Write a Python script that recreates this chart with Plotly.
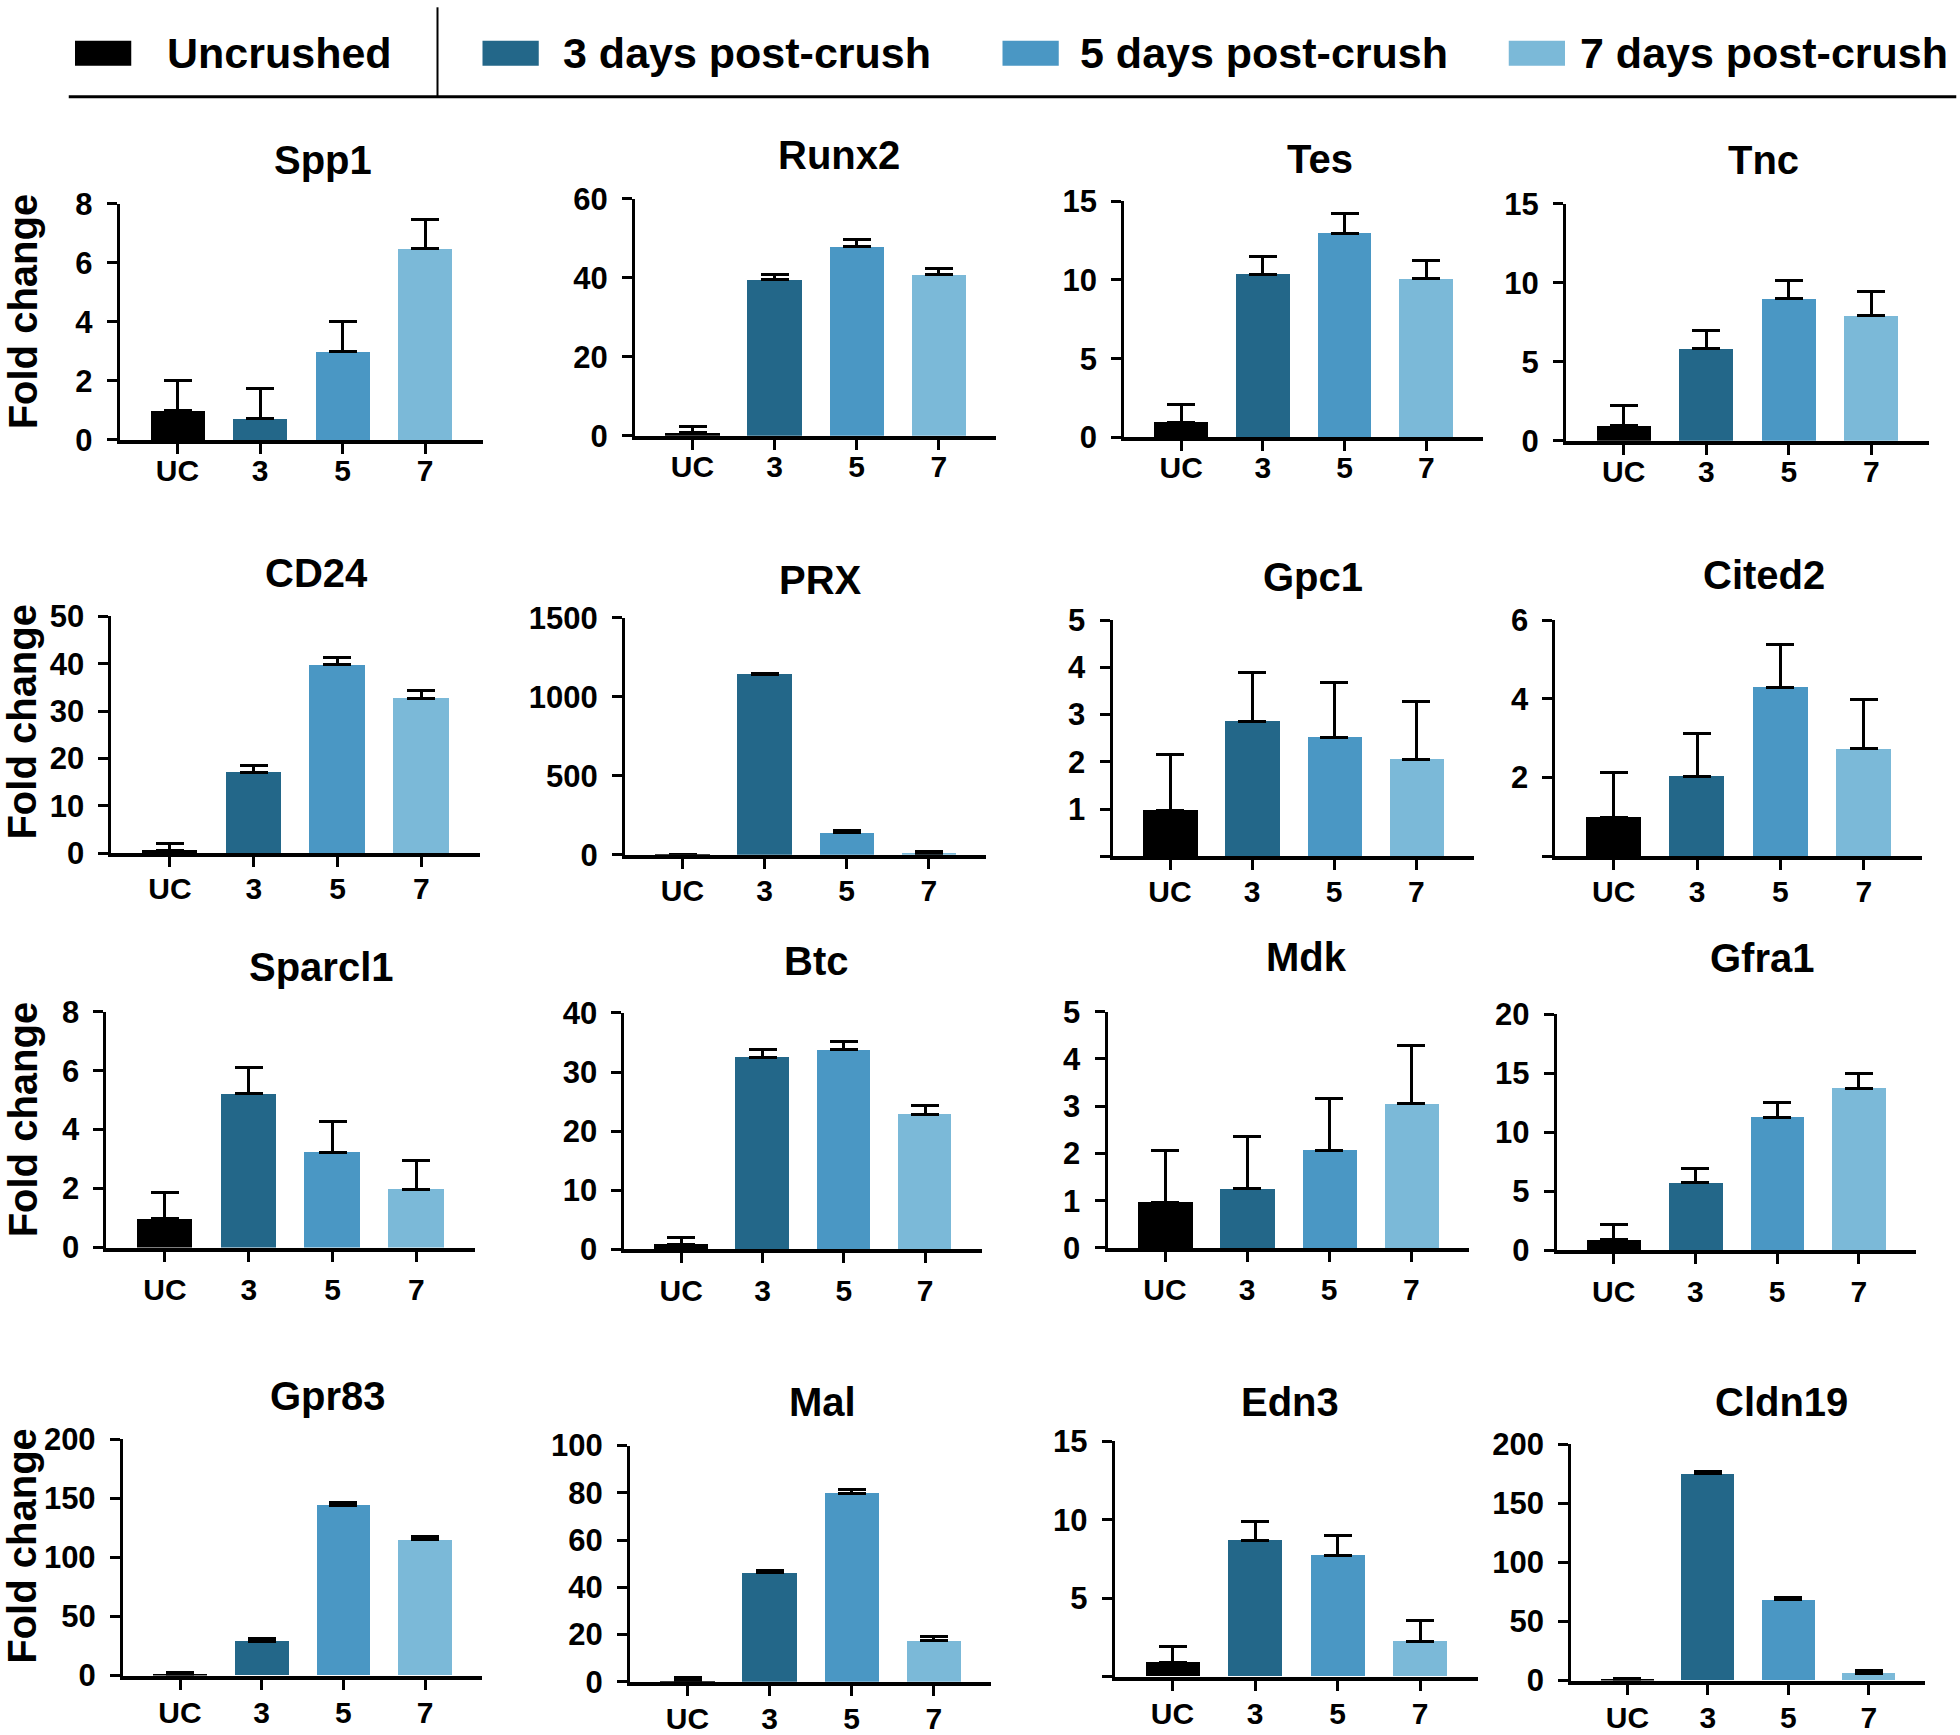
import plotly.graph_objects as go

W, H = 1960, 1735
S = 1.25  # reference display scale -> full

categories = ["UC", "3", "5", "7"]
group_names = ["Uncrushed", "3 days post-crush", "5 days post-crush", "7 days post-crush"]
colors = ["#000000", "#236789", "#4A97C4", "#7BB9D8"]

genes = ["Spp1", "Runx2", "Tes", "Tnc",
         "CD24", "PRX", "Gpc1", "Cited2",
         "Sparcl1", "Btc", "Mdk", "Gfra1",
         "Gpr83", "Mal", "Edn3", "Cldn19"]

spp1 = [0.98, 0.73, 2.98, 6.49]
spp1_err = [1.04, 1.01, 1.04, 0.96]
runx2 = [0.8, 39.5, 47.9, 40.7]
runx2_err = [1.5, 1.4, 1.7, 1.7]
tes = [0.96, 10.34, 12.98, 10.07]
tes_err = [1.14, 1.13, 1.22, 1.15]
tnc = [0.93, 5.85, 9.0, 7.91]
tnc_err = [1.3, 1.13, 1.16, 1.52]
cd24 = [0.7, 17.0, 39.75, 32.65]
cd24_err = [1.4, 1.5, 1.55, 1.65]
prx = [1.0, 1143, 141, 10]
prx_err = [2, 6, 12, 9]
gpc1 = [0.98, 2.86, 2.52, 2.06]
gpc1_err = [1.18, 1.04, 1.16, 1.21]
cited2 = [0.99, 2.04, 4.3, 2.73]
cited2_err = [1.13, 1.08, 1.07, 1.26]
sparcl1 = [0.98, 5.21, 3.24, 1.98]
sparcl1_err = [0.9, 0.89, 1.03, 0.96]
btc = [0.84, 32.47, 33.8, 22.87]
btc_err = [1.13, 1.33, 1.4, 1.43]
mdk = [0.97, 1.25, 2.07, 3.06]
mdk_err = [1.09, 1.11, 1.09, 1.23]
gfra1 = [0.9, 5.73, 11.29, 13.74]
gfra1_err = [1.29, 1.18, 1.21, 1.26]
gpr83 = [1.0, 29.1, 144.3, 114.8]
gpr83_err = [1.5, 2.0, 2.5, 2.8]
mal = [0.7, 46.2, 79.9, 17.6]
mal_err = [1.0, 1.1, 1.6, 1.6]
edn3 = [0.91, 8.66, 7.73, 2.28]
edn3_err = [1.05, 1.25, 1.27, 1.31]
cldn19 = [1.0, 175.0, 68.2, 6.2]
cldn19_err = [0.6, 1.7, 2.5, 2.5]

means = [spp1, runx2, tes, tnc, cd24, prx, gpc1, cited2,
         sparcl1, btc, mdk, gfra1, gpr83, mal, edn3, cldn19]
errs = [spp1_err, runx2_err, tes_err, tnc_err, cd24_err, prx_err, gpc1_err, cited2_err,
        sparcl1_err, btc_err, mdk_err, gfra1_err, gpr83_err, mal_err, edn3_err, cldn19_err]

# y-axis ticks per panel
ytick_vals = [
    [0, 2, 4, 6, 8], [0, 20, 40, 60], [0, 5, 10, 15], [0, 5, 10, 15],
    [0, 10, 20, 30, 40, 50], [0, 500, 1000, 1500], [0, 1, 2, 3, 4, 5], [0, 2, 4, 6],
    [0, 2, 4, 6, 8], [0, 10, 20, 30, 40], [0, 1, 2, 3, 4, 5], [0, 5, 10, 15, 20],
    [0, 50, 100, 150, 200], [0, 20, 40, 60, 80, 100], [0, 5, 10, 15], [0, 50, 100, 150, 200],
]
hide_zero = {"Gpc1", "Cited2", "Edn3"}

# layout geometry (reference display px): UC label x, 7 label x, y of zero, y of top tick
geo = [
    (142, 340, 353, 163), (554, 751, 349.6, 159), (945, 1141, 351, 161), (1299, 1497, 353.6, 163),
    (136, 337, 685.6, 495), (546, 743, 686.7, 496), (936, 1133, 688, 498), (1291, 1491, 688, 498),
    (132, 333, 1002.7, 813), (545, 740, 1004, 814), (932, 1129, 1003, 813), (1291, 1487, 1005, 815),
    (144, 340, 1347, 1157), (550, 747, 1352, 1162), (938, 1136, 1348, 1158.7), (1302, 1495, 1351, 1161),
]
row_label_standoff = [-9, -4, 2, -3]
title_pos = [
    (258, 128), (671, 124), (1056, 127), (1411, 128),
    (253, 460), (656, 466), (1050, 463), (1411, 462),
    (257, 777), (653, 772), (1045, 769), (1410, 770),
    (262, 1122), (658, 1127), (1032, 1127), (1425, 1127),
]


def py(yd):
    """reference display y -> paper y (with vertical calibration)"""
    yd = (yd - 12.8) / 0.976
    return 1 - yd * S / H


def px(xd):
    return xd * S / W


FONT = "Liberation Sans, Arial, Helvetica, sans-serif"
fig = go.Figure()
annotations = []
shapes = []

for i, g in enumerate(genes):
    n = i + 1
    xa = "x" if n == 1 else f"x{n}"
    ya = "y" if n == 1 else f"y{n}"
    cuc, c7, y0, ytop = geo[i]
    s = (c7 - cuc) / 3.0
    fig.add_trace(go.Bar(
        x=[0, 1, 2, 3], y=means[i], width=0.66,
        marker=dict(color=colors, line=dict(width=0)),
        error_y=dict(type="data", symmetric=False, array=errs[i],
                     arrayminus=[0, 0, 0, 0], color="black", thickness=3, width=14),
        xaxis=xa, yaxis=ya, showlegend=False,
    ))
    tv = ytick_vals[i]
    tt = [("" if (v == 0 and g in hide_zero) else str(v)) for v in tv]
    fig.layout[("xaxis" if n == 1 else f"xaxis{n}")] = dict(
        domain=[px(cuc - 0.7 * s), px(c7 + 0.7 * s)], anchor=ya, range=[-0.7, 3.7],
        tickvals=[0, 1, 2, 3], ticktext=categories,
        showline=True, linecolor="black", linewidth=4,
        ticks="outside", ticklen=10, tickwidth=3, tickcolor="black",
        ticklabelstandoff=row_label_standoff[i // 4],
        tickfont=dict(family=FONT, size=30, color="black", weight="bold"),
        showgrid=False, zeroline=False, fixedrange=True,
    )
    fig.layout[("yaxis" if n == 1 else f"yaxis{n}")] = dict(
        domain=[py(y0), py(ytop)], anchor=xa, range=[0, tv[-1]],
        tickvals=tv, ticktext=tt,
        showline=True, linecolor="black", linewidth=3,
        ticks="outside", ticklen=10, tickwidth=3, tickcolor="black",
        ticklabelstandoff=8,
        tickfont=dict(family=FONT, size=31, color="black", weight="bold"),
        showgrid=False, zeroline=False, fixedrange=True,
    )
    tx, ty = title_pos[i]
    annotations.append(dict(
        text=g, x=px(tx), y=py(ty), xref="paper", yref="paper",
        xanchor="center", yanchor="middle", showarrow=False,
        font=dict(family=FONT, size=40, color="black", weight="bold"),
    ))

# Fold change labels
for yc in [250, 580, 900, 1243]:
    annotations.append(dict(
        text="Fold change", x=px(18), y=py(yc), xref="paper", yref="paper",
        xanchor="center", yanchor="middle", textangle=-90, showarrow=False,
        font=dict(family=FONT, size=40, color="black", weight="bold"),
    ))

# Legend header
swatch_x = [60, 386, 802, 1207]
text_x = [132, 449, 862, 1262]
for k in range(4):
    shapes.append(dict(type="rect", xref="paper", yref="paper",
                       x0=px(swatch_x[k]), x1=px(swatch_x[k] + 45),
                       y0=py(52), y1=py(32),
                       fillcolor=colors[k], line=dict(width=0)))
    annotations.append(dict(
        text=group_names[k], x=px(text_x[k]), y=py(42),
        xref="paper", yref="paper", xanchor="left", yanchor="middle", showarrow=False,
        font=dict(family=FONT, size=43, color="black", weight="bold"),
    ))
shapes.append(dict(type="line", xref="paper", yref="paper",
                   x0=px(55), x1=px(1565), y0=py(77), y1=py(77),
                   line=dict(color="black", width=3)))
shapes.append(dict(type="line", xref="paper", yref="paper",
                   x0=px(350), x1=px(350), y0=py(5), y1=py(77),
                   line=dict(color="black", width=2)))

fig.update_layout(
    width=W, height=H, margin=dict(l=0, r=0, t=0, b=0),
    paper_bgcolor="white", plot_bgcolor="white",
    annotations=annotations, shapes=shapes, bargap=0,
)
fig.write_html("out.html", config={"displayModeBar": False},
               post_script="document.body.style.margin='0';document.body.style.padding='0';")
